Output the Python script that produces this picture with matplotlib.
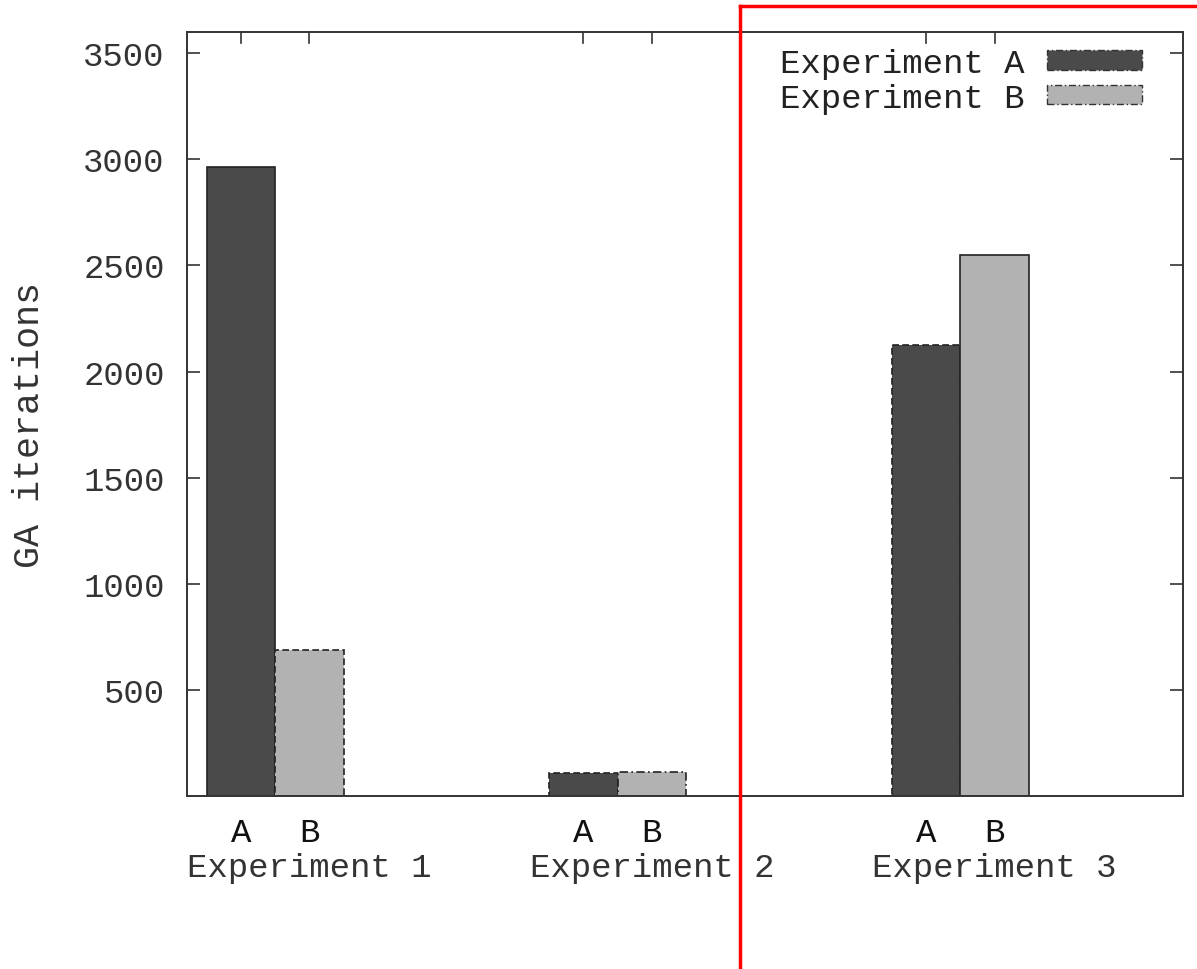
import numpy as np
import matplotlib
matplotlib.use('Agg')
import matplotlib.pyplot as plt
from matplotlib.patches import Patch
from matplotlib.lines import Line2D

plt.rcParams['font.family'] = ['Liberation Mono', 'DejaVu Sans Mono']
plt.rcParams['font.size'] = 24.5

groups = ['Experiment 1', 'Experiment 2', 'Experiment 3']
series = ['Experiment A', 'Experiment B']
bar_ticks = ['A', 'B']
iters_a = [2965, 108, 2125]
iters_b = [690, 114, 2547]
colors = ['#4a4a4a', '#b2b2b2']
edge_styles_a = ['-', (0, (4, 2)), (0, (4, 2))]
edge_styles_b = [(0, (4, 2)), (0, (5, 2, 1, 2)), '-']
yticks = [500, 1000, 1500, 2000, 2500, 3000, 3500]

w = 0.2
x = np.arange(len(groups))

fig = plt.figure(figsize=(11.97, 9.70), dpi=100)
ax = fig.add_axes([0.1562, 0.1784, 0.8321, 0.7876])

for i in range(len(groups)):
    ax.bar(x[i] - w/2, iters_a[i], w, color=colors[0], edgecolor='#222222',
           linewidth=1.2, linestyle=edge_styles_a[i], zorder=2)
    ax.bar(x[i] + w/2, iters_b[i], w, color=colors[1], edgecolor='#222222',
           linewidth=1.2, linestyle=edge_styles_b[i], zorder=2)

ax.set_xlim(-0.257, 2.65)
ax.set_ylim(0, 3600)
ax.set_yticks(yticks)

centers = np.concatenate([[c - w/2, c + w/2] for c in x])
ax.set_xticks(centers)
ax.set_xticklabels(bar_ticks * len(groups))
ax.tick_params(axis='x', which='both', bottom=True, top=True, direction='in',
               length=0, pad=15, labelcolor='#111111')
ax.tick_params(axis='y', left=True, right=True, direction='in', length=9.5,
               width=1.2, pad=16, labelcolor='#333333', color='#333333')
# only the top copies of the x ticks show, so draw them by hand
for c in centers:
    ax.plot([c, c], [1, 0.985], transform=ax.get_xaxis_transform(),
            color='#333333', lw=1.2, clip_on=False, zorder=3)

for i, g in enumerate(groups):
    ax.text(x[i] + 0.1, -0.093, g, transform=ax.get_xaxis_transform(),
            ha='center', va='center', color='#333333')

for s in ax.spines.values():
    s.set_color('#333333')
    s.set_linewidth(1.4)

ax.set_ylabel('GA iterations', color='#333333', fontsize=26.5)
ax.yaxis.set_label_coords(-0.1406, 0.487)

handles = [Patch(facecolor=colors[0], edgecolor='#333333', linewidth=1,
                 linestyle=(0, (5, 2, 1, 2))),
           Patch(facecolor=colors[1], edgecolor='#333333', linewidth=1,
                 linestyle=(0, (5, 2, 1, 2)))]
ax.legend(handles, series, loc='upper right', bbox_to_anchor=(0.9588, 0.979),
          frameon=False, markerfirst=False, borderpad=0, borderaxespad=0,
          handlelength=2.8, handleheight=0.5, labelspacing=0.11,
          handletextpad=0.65, labelcolor='#222222')

# red marker lines over the figure
fig.add_artist(Line2D([739.5/1197, 739.5/1197], [0, 1 - 7/970], color='red', lw=2.5))
fig.add_artist(Line2D([739.5/1197, 1], [1 - 7/970, 1 - 7/970], color='red', lw=2.5))

fig.savefig('out.png', dpi=100)
